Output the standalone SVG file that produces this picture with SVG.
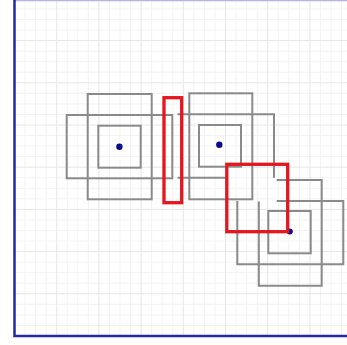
<svg xmlns="http://www.w3.org/2000/svg" width="347" height="345" viewBox="0 0 347 345">
<style>
.minor{stroke:#f3f3f3;stroke-width:1;fill:none}
.major{stroke:#e6e6e6;stroke-width:1;fill:none}
.outline{stroke:#8a8a8a;stroke-width:2;fill:none}
.dot{fill:#0a0a8c}
.hl{stroke:#e5161e;stroke-width:3.3;fill:none}
.frame{stroke:#2626a8;stroke-width:2.5;fill:none}
</style>
<rect x="0" y="0" width="347" height="345" fill="#ffffff"/>
<g id="grid">
<path class="minor" d="M25.05,0V336M35.6,0V336M46.15,0V336M67.25,0V336M77.8,0V336M88.35,0V336M109.45,0V336M120,0V336M130.55,0V336M151.65,0V336M162.2,0V336M172.75,0V336M193.85,0V336M204.4,0V336M214.95,0V336M236.05,0V336M246.6,0V336M257.15,0V336M278.25,0V336M288.8,0V336M299.35,0V336M320.45,0V336M331,0V336M341.55,0V336 M14.5,325.45H347M14.5,314.9H347M14.5,304.35H347M14.5,283.25H347M14.5,272.7H347M14.5,262.15H347M14.5,241.05H347M14.5,230.5H347M14.5,219.95H347M14.5,198.85H347M14.5,188.3H347M14.5,177.75H347M14.5,156.65H347M14.5,146.1H347M14.5,135.55H347M14.5,114.45H347M14.5,103.9H347M14.5,93.35H347M14.5,72.25H347M14.5,61.7H347M14.5,51.15H347M14.5,30.05H347M14.5,19.5H347M14.5,8.95H347"/>
<path class="major" d="M56.7,0V336M98.9,0V336M141.1,0V336M183.3,0V336M225.5,0V336M267.7,0V336M309.9,0V336 M14.5,293.8H347M14.5,251.6H347M14.5,209.4H347M14.5,167.2H347M14.5,125H347M14.5,82.8H347M14.5,40.6H347"/>
</g>
<g id="frame">
<path d="M14.5,0.6H347" stroke="#b4b4e2" stroke-width="1.5" fill="none"/>
<path class="frame" d="M14.5,0V336H347"/>
</g>
<g id="node1">
<rect class="outline" x="66.7" y="115" width="105.6" height="63.3"/>
<rect class="outline" x="87.7" y="94" width="64" height="105.3"/>
<rect class="outline" x="98.3" y="125.7" width="42.4" height="42"/>
<circle class="dot" cx="119.4" cy="146.7" r="3.2"/>
</g>
<g id="node2">
<rect class="outline" x="189.3" y="93.3" width="63" height="106"/>
<path class="outline" d="M177.5,114.3H274V177.7M177.5,177.7H226"/>
<rect class="outline" x="199" y="125" width="42" height="41.7"/>
<circle class="dot" cx="219.3" cy="144.7" r="3.2"/>
</g>
<g id="node3">
<path class="outline" d="M276.7,180H321.7V285.7H258.8V201.5"/>
<path class="outline" d="M276.7,201H343.3V264.3H237.3V201"/>
<rect class="outline" x="268.3" y="211" width="42.4" height="42.3"/>
<circle class="dot" cx="289.8" cy="231.5" r="3"/>
</g>
<g id="highlights">
<rect class="hl" x="164" y="97.7" width="17.7" height="105"/>
<rect class="hl" x="226.8" y="164.3" width="60.9" height="67.4"/>
</g>
</svg>
